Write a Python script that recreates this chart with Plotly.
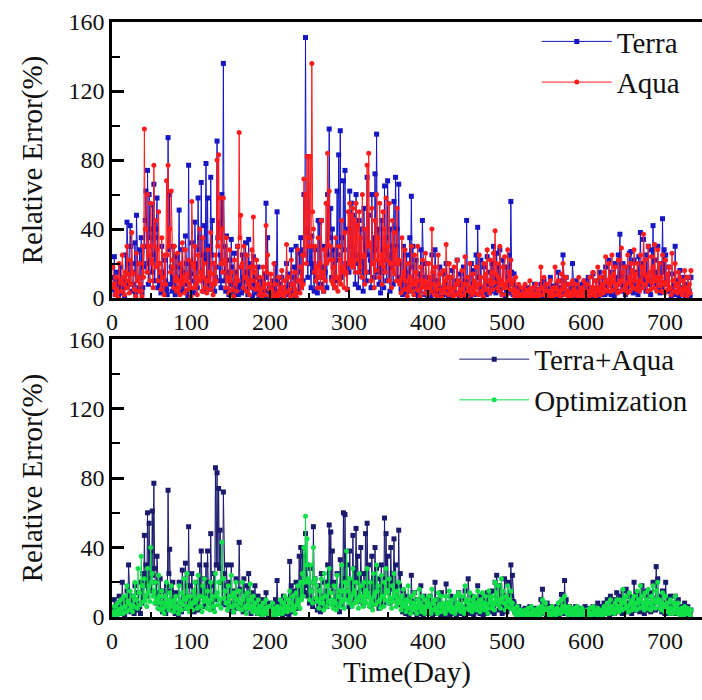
import plotly.graph_objects as go

# ---- data: relative error (%) ----
# *_odd : values on days 1, 3, 5, ... 733 ; *_even : values on days 2, 4, ... 732
terra_odd = [
    12, 24, 8, 15, 3, 18, 6, 10, 25, 44,
    14, 42, 20, 8, 32, 48, 12, 28, 35, 6,
    30, 62, 74, 60, 40, 54, 66, 35, 58, 20,
    8, 30, 14, 22, 5, 93, 60, 18, 30, 10,
    24, 12, 51, 6, 28, 15, 36, 4, 77, 20,
    32, 10, 44, 18, 58, 35, 67, 25, 42, 78,
    58, 30, 70, 45, 20, 12, 91, 44, 25, 60,
    136, 30, 36, 12, 22, 34, 8, 26, 15, 30,
    6, 18, 25, 10, 32, 14, 34, 20, 8, 24,
    12, 5, 18, 2, 10, 4, 14, 55, 35, 6,
    3, 10, 5, 20, 50, 8, 2, 12, 4, 6,
    20, 14, 4, 28, 8, 18, 30, 10, 26, 35,
    28, 60, 151, 38, 82, 30, 36, 20, 28, 12,
    45, 44, 45, 18, 30, 25, 60, 98, 52, 40,
    28, 22, 62, 83, 97, 35, 68, 74, 18, 40,
    62, 55, 48, 30, 60, 25, 45, 40, 20, 52,
    30, 70, 48, 22, 60, 35, 72, 95, 40, 18,
    45, 28, 65, 35, 68, 24, 40, 30, 56, 70,
    40, 66, 20, 8, 30, 12, 25, 15, 35, 59,
    30, 10, 22, 5, 14, 28, 45, 8, 20, 3,
    12, 6, 25, 15, 28, 4, 10, 18, 2, 14,
    8, 20, 5, 12, 3, 16, 6, 10, 22, 8,
    14, 4, 18, 10, 45, 12, 6, 20, 16, 8,
    25, 41, 12, 22, 5, 18, 10, 24, 8, 15,
    20, 30, 12, 26, 18, 28, 10, 22, 6, 18,
    12, 25, 56, 8, 14, 3, 6, 2, 5, 1,
    4, 2, 6, 3, 1, 5, 2, 8, 3, 5,
    2, 8, 4, 10, 3, 6, 2, 12, 4, 7,
    3, 8, 15, 4, 10, 25, 6, 12, 3, 8,
    5, 20, 4, 10, 2, 6, 3, 8, 2, 10,
    4, 12, 6, 2, 14, 5, 10, 3, 15, 8,
    12, 6, 18, 10, 22, 8, 15, 5, 20, 12,
    25, 37, 14, 20, 8, 18, 12, 26, 27, 10,
    22, 15, 6, 24, 38, 20, 34, 12, 25, 30,
    8, 28, 42, 22, 15, 30, 10, 20, 46, 28,
    25, 12, 18, 5, 14, 8, 30, 10, 4, 16,
    6, 12, 3, 8, 12, 4, 12,
]
terra_even = [
    5, 2, 10, 1, 7, 3, 12, 0, 6, 20,
    8, 30, 4, 15, 2, 20, 6, 12, 3, 18,
    45, 20, 8, 35, 15, 25, 10, 40, 6, 12,
    3, 15, 6, 10, 2, 28, 8, 4, 12, 2,
    6, 18, 3, 10, 4, 8, 20, 1, 12, 5,
    14, 3, 20, 6, 28, 10, 15, 4, 22, 8,
    12, 5, 25, 8, 4, 18, 35, 10, 6, 22,
    10, 4, 15, 2, 8, 18, 3, 6, 10, 2,
    8, 3, 12, 5, 15, 2, 10, 6, 1, 8,
    3, 8, 1, 6, 2, 5, 0, 12, 4, 1,
    2, 6, 1, 4, 10, 2, 0, 5, 1, 3,
    6, 2, 8, 3, 12, 1, 10, 4, 15, 6,
    10, 25, 40, 12, 20, 6, 15, 4, 10, 3,
    20, 8, 12, 4, 15, 6, 25, 35, 12, 18,
    6, 10, 25, 30, 12, 15, 28, 20, 5, 15,
    30, 18, 25, 8, 20, 6, 15, 22, 4, 18,
    10, 25, 15, 6, 20, 12, 28, 15, 8, 3,
    15, 6, 22, 10, 25, 4, 18, 8, 20, 30,
    12, 20, 5, 2, 10, 3, 8, 4, 12, 18,
    6, 2, 8, 1, 4, 10, 12, 2, 6, 0,
    3, 1, 8, 4, 10, 0, 3, 6, 1, 4,
    2, 6, 1, 4, 0, 5, 2, 3, 8, 1,
    4, 0, 6, 2, 10, 3, 1, 8, 4, 2,
    8, 12, 3, 6, 1, 5, 2, 8, 3, 4,
    6, 10, 3, 8, 5, 10, 2, 6, 1, 5,
    3, 8, 15, 2, 4, 0, 2, 0, 1, 0,
    1, 0, 2, 1, 0, 2, 0, 3, 1, 2,
    0, 3, 1, 4, 1, 2, 0, 5, 1, 2,
    1, 3, 6, 1, 4, 8, 2, 4, 1, 3,
    2, 6, 1, 3, 0, 2, 1, 3, 0, 4,
    1, 4, 2, 0, 5, 2, 3, 1, 6, 2,
    4, 2, 6, 3, 8, 2, 5, 1, 7, 4,
    8, 12, 4, 7, 2, 6, 4, 10, 8, 3,
    7, 5, 2, 8, 12, 6, 10, 4, 8, 10,
    2, 9, 14, 7, 5, 10, 3, 6, 15, 9,
    8, 4, 6, 1, 5, 2, 10, 3, 1, 5,
    2, 4, 1, 3, 4, 1,
]

aqua_odd = [
    18, 6, 12, 3, 20, 10, 25, 8, 15, 30,
    10, 22, 38, 14, 5, 26, 12, 20, 4, 30,
    98, 40, 60, 30, 55, 20, 77, 45, 28, 50,
    15, 35, 8, 25, 68, 77, 40, 62, 18, 30,
    12, 26, 6, 20, 32, 10, 28, 14, 22, 5,
    56, 18, 30, 8, 25, 40, 12, 35, 20, 10,
    28, 15, 38, 8, 20, 25, 80, 83, 58, 40,
    58, 20, 35, 10, 28, 15, 5, 22, 12, 30,
    96, 48, 20, 30, 12, 25, 8, 18, 28, 47,
    15, 22, 6, 12, 3, 18, 8, 42, 25, 5,
    14, 4, 20, 8, 2, 12, 6, 16, 3, 10,
    31, 12, 5, 22, 8, 15, 3, 28, 10, 18,
    25, 69, 60, 82, 82, 82, 136, 40, 30, 18,
    35, 20, 45, 12, 28, 55, 84, 62, 30, 22,
    18, 35, 12, 30, 22, 45, 18, 38, 15, 50,
    55, 48, 52, 45, 55, 42, 50, 35, 60, 25,
    40, 77, 84, 30, 52, 20, 45, 60, 35, 55,
    25, 50, 40, 58, 30, 55, 20, 45, 38, 28,
    52, 22, 10, 35, 15, 28, 5, 20, 12, 30,
    8, 25, 15, 30, 4, 18, 22, 10, 26, 6,
    20, 12, 40, 8, 18, 5, 25, 14, 3, 16,
    10, 31, 6, 20, 12, 4, 18, 8, 22, 10,
    5, 16, 8, 24, 3, 12, 20, 6, 14, 10,
    18, 8, 25, 12, 4, 20, 14, 28, 10, 22,
    15, 26, 39, 20, 12, 30, 8, 18, 24, 6,
    28, 15, 22, 10, 5, 12, 3, 8, 2, 6,
    3, 8, 2, 5, 10, 4, 6, 2, 8, 3,
    5, 18, 6, 12, 3, 8, 4, 10, 2, 6,
    18, 5, 10, 3, 14, 20, 6, 12, 4, 8,
    3, 10, 5, 8, 2, 12, 4, 6, 10, 3,
    8, 4, 12, 6, 15, 3, 10, 18, 5, 12,
    8, 15, 24, 10, 20, 12, 25, 14, 18, 8,
    22, 10, 29, 15, 18, 8, 25, 12, 20, 16,
    28, 14, 20, 10, 25, 18, 37, 22, 12, 30,
    15, 24, 18, 31, 10, 28, 20, 12, 25, 8,
    22, 14, 18, 6, 26, 10, 20, 8, 15, 12,
    5, 10, 16, 4, 12, 8, 16,
]
aqua_even = [
    8, 2, 5, 0, 9, 4, 12, 2, 6, 14,
    3, 8, 15, 5, 1, 10, 4, 8, 1, 12,
    40, 15, 25, 10, 22, 6, 30, 18, 10, 20,
    5, 12, 2, 8, 25, 30, 15, 22, 6, 10,
    4, 10, 2, 8, 12, 3, 10, 5, 8, 1,
    20, 6, 12, 2, 10, 15, 4, 12, 6, 3,
    10, 5, 14, 2, 8, 10, 30, 35, 20, 15,
    22, 6, 12, 3, 10, 5, 1, 8, 4, 10,
    35, 18, 6, 12, 4, 10, 2, 6, 10, 18,
    5, 8, 2, 4, 0, 6, 2, 15, 8, 1,
    5, 1, 8, 2, 0, 4, 2, 6, 1, 3,
    12, 4, 1, 8, 2, 5, 0, 10, 3, 6,
    8, 25, 20, 30, 35, 30, 50, 15, 10, 6,
    12, 6, 15, 4, 10, 20, 30, 22, 10, 8,
    6, 12, 4, 10, 8, 15, 6, 14, 5, 20,
    22, 18, 20, 15, 22, 15, 18, 12, 24, 8,
    15, 30, 32, 10, 20, 6, 16, 22, 12, 20,
    8, 18, 15, 22, 10, 20, 6, 16, 14, 10,
    20, 8, 3, 12, 5, 10, 1, 6, 4, 10,
    2, 8, 5, 10, 1, 6, 8, 3, 9, 2,
    6, 4, 15, 2, 6, 1, 8, 5, 0, 5,
    3, 12, 2, 6, 4, 1, 6, 2, 8, 3,
    1, 5, 2, 8, 0, 4, 6, 2, 5, 3,
    6, 2, 8, 4, 1, 6, 5, 10, 3, 8,
    5, 9, 14, 6, 4, 10, 2, 6, 8, 2,
    10, 5, 8, 3, 1, 4, 0, 2, 0, 2,
    1, 3, 0, 2, 4, 1, 2, 0, 3, 1,
    2, 6, 2, 4, 1, 3, 1, 4, 0, 2,
    6, 2, 4, 1, 5, 8, 2, 4, 1, 3,
    1, 4, 2, 3, 0, 4, 1, 2, 4, 1,
    3, 1, 4, 2, 6, 1, 4, 6, 2, 4,
    3, 5, 9, 4, 7, 4, 9, 5, 6, 3,
    8, 4, 10, 5, 6, 3, 9, 4, 7, 6,
    10, 5, 7, 4, 9, 6, 14, 8, 4, 10,
    5, 9, 6, 12, 4, 10, 7, 4, 9, 3,
    8, 5, 6, 2, 10, 4, 7, 3, 5, 4,
    2, 4, 6, 1, 4, 3,
]

terra_aqua_odd = [
    5, 10, 3, 8, 12, 6, 20, 4, 10, 15,
    30, 8, 12, 5, 18, 10, 14, 6, 20, 25,
    47, 30, 60, 54, 38, 61, 77, 20, 35, 12,
    22, 8, 15, 5, 18, 73, 39, 10, 20, 6,
    14, 4, 20, 8, 27, 12, 31, 18, 52, 10,
    25, 8, 15, 20, 10, 30, 38, 15, 22, 30,
    38, 20, 48, 12, 25, 86, 83, 74, 50, 20,
    72, 18, 30, 10, 20, 30, 8, 15, 22, 12,
    43, 15, 8, 22, 12, 18, 25, 6, 14, 10,
    18, 5, 12, 8, 3, 10, 6, 14, 4, 8,
    3, 6, 2, 10, 21, 5, 8, 3, 12, 6,
    10, 4, 32, 18, 8, 15, 20, 12, 35, 40,
    40, 35, 48, 30, 20, 28, 15, 52, 22, 10,
    18, 8, 25, 12, 20, 15, 30, 53, 49, 38,
    20, 12, 25, 8, 33, 18, 60, 59, 30, 15,
    38, 20, 47, 28, 51, 35, 22, 40, 18, 25,
    48, 54, 30, 15, 35, 20, 40, 28, 12, 22,
    30, 18, 57, 48, 35, 20, 40, 25, 45, 30,
    18, 50, 25, 8, 15, 5, 12, 4, 10, 24,
    8, 14, 4, 10, 6, 18, 3, 12, 5, 10,
    6, 12, 3, 8, 20, 5, 10, 2, 14, 6,
    4, 19, 8, 3, 12, 6, 10, 4, 8, 14,
    5, 10, 3, 15, 8, 22, 6, 12, 4, 10,
    8, 18, 5, 12, 3, 10, 6, 14, 8, 12,
    15, 6, 20, 24, 10, 18, 5, 12, 22, 8,
    20, 14, 30, 24, 8, 5, 3, 6, 2, 4,
    3, 5, 2, 4, 6, 3, 2, 5, 4, 3,
    5, 10, 16, 6, 3, 8, 4, 6, 2, 5,
    3, 6, 4, 8, 13, 5, 21, 10, 4, 6,
    3, 5, 2, 6, 4, 3, 5, 2, 4, 6,
    3, 5, 4, 2, 6, 3, 5, 8, 4, 6,
    5, 8, 6, 10, 4, 12, 8, 6, 10, 14,
    8, 12, 6, 15, 10, 16, 8, 12, 6, 10,
    20, 10, 14, 8, 12, 18, 6, 15, 10, 12,
    8, 14, 20, 10, 29, 22, 12, 8, 15, 6,
    20, 10, 6, 12, 5, 8, 12, 6, 10, 4,
    6, 3, 8, 4, 6, 3, 4,
]
terra_aqua_even = [
    2, 4, 1, 3, 5, 2, 8, 1, 4, 6,
    12, 3, 5, 2, 7, 4, 6, 2, 8, 10,
    18, 12, 22, 20, 15, 24, 28, 8, 14, 5,
    8, 3, 6, 2, 7, 25, 15, 4, 8, 2,
    5, 1, 8, 3, 10, 5, 12, 7, 18, 4,
    10, 3, 6, 8, 4, 12, 15, 6, 9, 12,
    15, 8, 18, 5, 10, 30, 30, 28, 20, 8,
    25, 7, 12, 4, 8, 12, 3, 6, 9, 5,
    16, 6, 3, 9, 5, 7, 10, 2, 6, 4,
    7, 2, 5, 3, 1, 4, 2, 6, 1, 3,
    1, 2, 1, 4, 8, 2, 3, 1, 5, 2,
    4, 1, 12, 7, 3, 6, 8, 5, 14, 15,
    15, 14, 18, 12, 8, 11, 6, 20, 9, 4,
    7, 3, 10, 5, 8, 6, 12, 20, 18, 15,
    8, 5, 10, 3, 13, 7, 22, 22, 12, 6,
    15, 8, 18, 11, 20, 14, 9, 16, 7, 10,
    18, 20, 12, 6, 14, 8, 16, 11, 5, 9,
    12, 7, 22, 18, 14, 8, 16, 10, 17, 12,
    7, 18, 10, 3, 6, 2, 5, 1, 4, 9,
    3, 5, 1, 4, 2, 7, 1, 5, 2, 4,
    2, 5, 1, 3, 8, 2, 4, 0, 5, 2,
    1, 7, 3, 1, 5, 2, 4, 1, 3, 5,
    2, 4, 1, 6, 3, 8, 2, 5, 1, 4,
    3, 7, 2, 5, 1, 4, 2, 5, 3, 5,
    6, 2, 8, 9, 4, 7, 2, 5, 8, 3,
    8, 5, 12, 9, 3, 2, 1, 2, 1, 1,
    1, 2, 1, 1, 2, 1, 1, 2, 1, 1,
    2, 4, 6, 2, 1, 3, 1, 2, 1, 2,
    1, 2, 1, 3, 5, 2, 8, 4, 1, 2,
    1, 2, 1, 2, 1, 1, 2, 1, 1, 2,
    1, 2, 1, 1, 2, 1, 2, 3, 1, 2,
    2, 3, 2, 4, 1, 5, 3, 2, 4, 5,
    3, 5, 2, 6, 4, 6, 3, 5, 2, 4,
    8, 4, 5, 3, 5, 7, 2, 6, 4, 5,
    3, 5, 8, 4, 11, 9, 5, 3, 6, 2,
    8, 4, 2, 5, 2, 3, 5, 2, 4, 1,
    2, 1, 3, 1, 2, 1,
]

optimization_odd = [
    3, 6, 2, 8, 4, 10, 5, 12, 6, 18,
    8, 15, 6, 12, 20, 10, 28, 14, 35, 18,
    22, 12, 28, 18, 40, 25, 15, 20, 10, 24,
    8, 15, 5, 12, 20, 8, 14, 18, 6, 10,
    12, 5, 18, 8, 14, 22, 10, 25, 6, 12,
    8, 15, 20, 10, 24, 12, 6, 18, 22, 10,
    15, 8, 20, 12, 6, 25, 14, 20, 10, 43,
    22, 15, 8, 18, 12, 24, 6, 14, 20, 10,
    15, 8, 20, 12, 5, 14, 10, 19, 6, 12,
    8, 4, 10, 6, 3, 8, 5, 10, 4, 6,
    3, 8, 5, 2, 6, 4, 10, 5, 8, 12,
    6, 10, 15, 8, 12, 5, 14, 18, 10, 20,
    25, 40, 58, 45, 20, 30, 15, 40, 22, 18,
    10, 15, 22, 8, 25, 12, 18, 28, 14, 10,
    18, 8, 24, 12, 15, 30, 10, 20, 38, 15,
    22, 12, 28, 15, 20, 10, 25, 18, 12, 20,
    15, 28, 12, 20, 8, 25, 14, 30, 18, 10,
    24, 12, 20, 28, 15, 22, 10, 18, 25, 12,
    15, 20, 8, 12, 16, 6, 10, 18, 5, 12,
    8, 14, 5, 10, 16, 6, 12, 4, 10, 8,
    12, 5, 16, 8, 10, 4, 14, 6, 12, 8,
    5, 12, 8, 15, 6, 10, 4, 12, 8, 14,
    6, 12, 4, 18, 10, 8, 14, 6, 10, 12,
    8, 15, 6, 10, 14, 8, 12, 5, 15, 10,
    12, 8, 20, 14, 18, 10, 22, 15, 8, 12,
    18, 10, 15, 8, 5, 3, 6, 2, 4, 3,
    2, 4, 3, 5, 2, 6, 3, 4, 2, 5,
    3, 6, 10, 4, 8, 3, 5, 2, 6, 4,
    3, 5, 8, 4, 10, 6, 12, 5, 3, 6,
    4, 2, 5, 3, 6, 2, 4, 5, 3, 2,
    4, 3, 5, 2, 6, 4, 3, 5, 2, 4,
    3, 6, 4, 8, 5, 10, 6, 4, 8, 10,
    6, 10, 8, 16, 10, 12, 6, 14, 8, 10,
    12, 8, 15, 10, 18, 12, 8, 14, 10, 16,
    8, 12, 18, 10, 15, 20, 10, 8, 14, 6,
    12, 8, 5, 10, 4, 8, 12, 5, 8, 3,
    5, 3, 6, 4, 5, 3, 4,
]
optimization_even = [
    1, 3, 1, 4, 2, 5, 2, 6, 3, 9,
    4, 7, 3, 6, 10, 5, 14, 7, 18, 9,
    11, 6, 14, 9, 20, 12, 8, 10, 5, 12,
    4, 8, 2, 6, 10, 4, 7, 9, 3, 5,
    6, 2, 9, 4, 7, 11, 5, 12, 3, 6,
    4, 8, 10, 5, 12, 6, 3, 9, 11, 5,
    8, 4, 10, 6, 3, 12, 7, 10, 5, 22,
    11, 8, 4, 9, 6, 12, 3, 7, 10, 5,
    8, 4, 10, 6, 2, 7, 5, 10, 3, 6,
    4, 2, 5, 3, 1, 4, 2, 5, 2, 3,
    1, 4, 2, 1, 3, 2, 5, 2, 4, 6,
    3, 5, 8, 4, 6, 2, 7, 9, 5, 10,
    12, 20, 30, 22, 10, 15, 8, 20, 11, 9,
    5, 8, 11, 4, 12, 6, 9, 14, 7, 5,
    9, 4, 12, 6, 8, 15, 5, 10, 19, 8,
    11, 6, 14, 8, 10, 5, 12, 9, 6, 10,
    8, 14, 6, 10, 4, 12, 7, 15, 9, 5,
    12, 6, 10, 14, 8, 11, 5, 9, 12, 6,
    8, 10, 4, 6, 8, 3, 5, 9, 2, 6,
    4, 7, 2, 5, 8, 3, 6, 2, 5, 4,
    6, 2, 8, 4, 5, 2, 7, 3, 6, 4,
    2, 6, 4, 8, 3, 5, 2, 6, 4, 7,
    3, 6, 2, 9, 5, 4, 7, 3, 5, 6,
    4, 8, 3, 5, 7, 4, 6, 2, 8, 5,
    6, 4, 10, 7, 9, 5, 11, 8, 4, 6,
    9, 5, 8, 4, 2, 1, 3, 1, 2, 1,
    1, 2, 1, 2, 1, 3, 1, 2, 1, 2,
    1, 3, 5, 2, 4, 1, 2, 1, 3, 2,
    1, 2, 4, 2, 5, 3, 6, 2, 1, 3,
    2, 1, 2, 1, 3, 1, 2, 2, 1, 1,
    2, 1, 2, 1, 3, 2, 1, 2, 1, 2,
    1, 3, 2, 4, 2, 5, 3, 2, 4, 5,
    3, 5, 4, 8, 5, 6, 3, 7, 4, 5,
    6, 4, 8, 5, 9, 6, 4, 7, 5, 8,
    4, 6, 9, 5, 8, 10, 5, 4, 7, 3,
    6, 4, 2, 5, 2, 4, 6, 2, 4, 1,
    2, 1, 3, 2, 2, 1,
]

x_tick_vals = [0, 100, 200, 300, 400, 500, 600, 700]
y_tick_vals = [0, 40, 80, 120, 160]

FONT = "Liberation Serif"


def merge(odd, even):
    """Interleave odd-day and even-day readings into one daily series."""
    days, vals = [], []
    for i, v in enumerate(odd):
        days.append(1 + 2 * i)
        vals.append(v)
        if i < len(even):
            days.append(2 + 2 * i)
            vals.append(even[i])
    return days, vals


fig = go.Figure()

series = [
    ("Terra", terra_odd, terra_even, "#1616c4", "square", "x", "y", "legend"),
    ("Aqua", aqua_odd, aqua_even, "#ff1c1c", "circle", "x", "y", "legend"),
    ("Terra+Aqua", terra_aqua_odd, terra_aqua_even, "#1b1b6e", "square", "x2", "y2", "legend2"),
    ("Optimization", optimization_odd, optimization_even, "#12e048", "circle", "x2", "y2", "legend2"),
]
for name, odd, even, color, sym, xa, ya, lg in series:
    d, v = merge(odd, even)
    fig.add_trace(go.Scatter(
        x=d, y=v, name=name, mode="lines+markers",
        line=dict(color=color, width=1),
        marker=dict(color=color, size=5, symbol=sym),
        xaxis=xa, yaxis=ya, legend=lg,
    ))

xcommon = dict(
    range=[0, 747], tickvals=x_tick_vals, ticks="inside", ticklen=8, tickwidth=2,
    tickcolor="black", showline=True, linecolor="black", linewidth=2.5, mirror=True,
    showgrid=False, zeroline=False,
    minor=dict(ticks="inside", ticklen=5, tickwidth=1.5, tickcolor="black", dtick=50, showgrid=False),
    tickfont=dict(family=FONT, size=24, color="#111"),
)
ycommon = dict(
    range=[0, 160], tickvals=y_tick_vals, ticks="inside", ticklen=12, tickwidth=2.5,
    tickcolor="black", showline=True, linecolor="black", linewidth=2.5,
    showgrid=False, zeroline=False,
    minor=dict(ticks="inside", ticklen=8, tickwidth=2, tickcolor="black", dtick=20, showgrid=False),
    tickfont=dict(family=FONT, size=24, color="#111"),
    title=dict(text="Relative Error(%)", font=dict(family=FONT, size=29, color="#111"), standoff=18),
)

fig.update_layout(
    width=702, height=700,
    margin=dict(l=112, r=0, t=22, b=83),
    paper_bgcolor="white", plot_bgcolor="white",
    showlegend=True,
    xaxis=dict(**xcommon, anchor="y", domain=[0, 1]),
    yaxis=dict(**ycommon, anchor="x", domain=[0.536, 1]),
    xaxis2=dict(**xcommon, anchor="y2", domain=[0, 1],
                title=dict(text="Time(Day)", font=dict(family=FONT, size=29, color="#111"), standoff=10)),
    yaxis2=dict(**ycommon, anchor="x2", domain=[0, 0.467]),
    legend=dict(x=0.72, y=1.01, xanchor="left", yanchor="top", bgcolor="rgba(0,0,0,0)",
                font=dict(family=FONT, size=29, color="#111"), itemwidth=70, tracegroupgap=0),
    legend2=dict(x=0.58, y=0.476, xanchor="left", yanchor="top", bgcolor="rgba(0,0,0,0)",
                 font=dict(family=FONT, size=29, color="#111"), itemwidth=70, tracegroupgap=0),
)

fig.write_html("out.html")
